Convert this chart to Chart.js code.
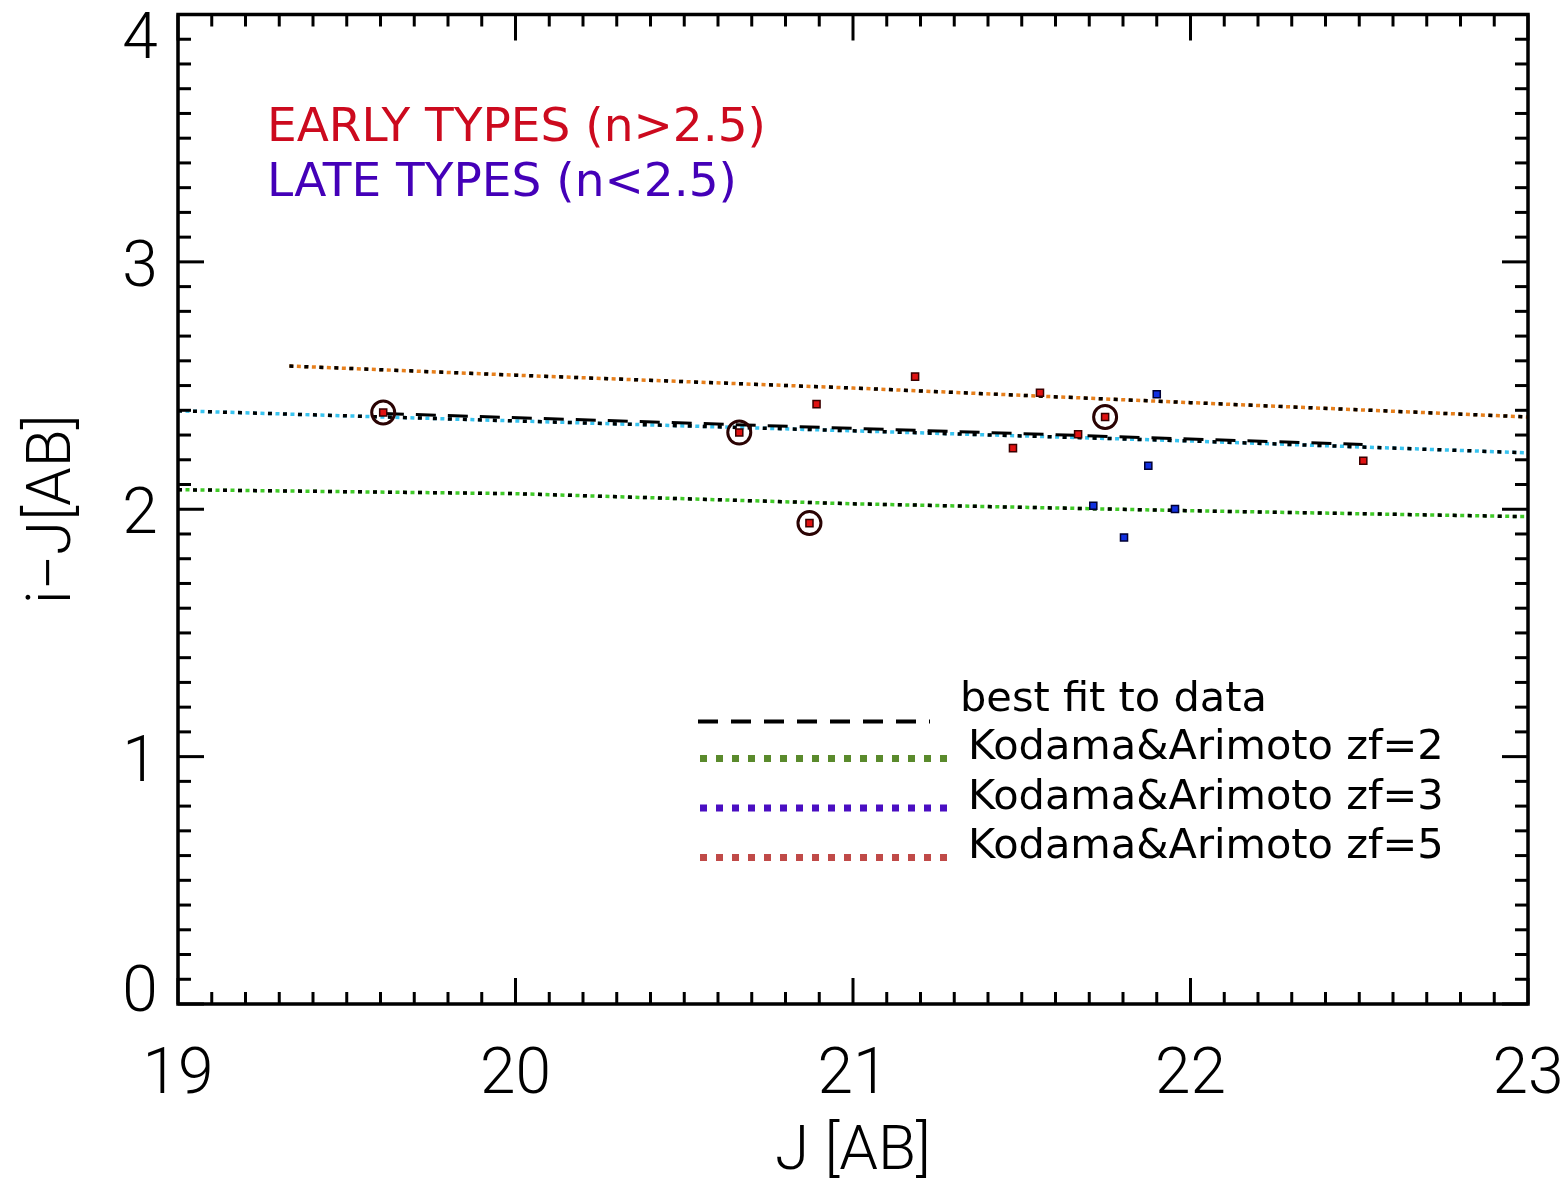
<!DOCTYPE html>
<html>
<head>
<meta charset="utf-8">
<script src="https://cdn.jsdelivr.net/npm/chart.js@4.4.1/dist/chart.umd.min.js"></script>
<style>
html,body{margin:0;padding:0;background:#ffffff;}
#wrap{width:1568px;height:1188px;position:relative;}
canvas{display:block;}
</style>
</head>
<body>
<div id="wrap"><canvas id="c" width="1568" height="1188"></canvas></div>
<script>
// ---- data ----
const xTickLabels = ['19', '20', '21', '22', '23'];
const yTickLabels = ['0', '1', '2', '3', '4'];

const earlyJ     = [19.608, 20.663, 20.871, 20.892, 21.184, 21.474, 21.554, 21.667, 21.747, 22.512];
const earlyColor = [2.391, 2.310, 1.944, 2.425, 2.536, 2.247, 2.471, 2.303, 2.373, 2.196];

const circledJ     = [19.608, 20.663, 20.871, 21.747];
const circledColor = [2.391, 2.310, 1.944, 2.373];

const lateJ     = [21.712, 21.803, 21.875, 21.900, 21.954];
const lateColor = [2.014, 1.886, 2.176, 2.465, 2.001];

const fitJ     = [19.61, 22.51];
const fitColor = [2.387, 2.262];

const zf2J     = [19.0, 20.0, 21.0, 22.0, 23.0];
const zf2Color = [2.079, 2.063, 2.022, 1.994, 1.970];

const zf3J     = [19.0, 20.0, 21.0, 22.0, 23.0];
const zf3Color = [2.398, 2.357, 2.317, 2.276, 2.228];

const zf5J     = [19.33, 20.0, 21.0, 22.0, 23.0];
const zf5Color = [2.579, 2.542, 2.490, 2.431, 2.373];

const legendLabels = ['best fit to data', 'Kodama&Arimoto zf=2', 'Kodama&Arimoto zf=3', 'Kodama&Arimoto zf=5'];
const annotationLabels = ['EARLY TYPES (n>2.5)', 'LATE TYPES (n<2.5)'];
const xTitle = 'J [AB]';
const yTitle = 'i\u2212J[AB]';

// ---- helpers ----
const pts = (xs, ys) => xs.map((x, i) => ({x: x, y: ys[i]}));
const AXIS_FONT = 'Roboto';

const lineDs = (xs, ys, color, dash, width) => ({
  data: pts(xs, ys), showLine: true, pointRadius: 0, borderColor: color,
  borderWidth: width, borderDash: dash, fill: false, tension: 0
});

const idlDecor = {
  id: 'idlDecor',
  afterDraw(chart) {
    const {ctx, chartArea: {left, right, top, bottom}, scales: {x, y}} = chart;
    ctx.save();
    const seg = (x1, y1, x2, y2) => { ctx.beginPath(); ctx.moveTo(x1, y1); ctx.lineTo(x2, y2); ctx.stroke(); };
    ctx.strokeStyle = '#000';
    ctx.lineWidth = 3;
    ctx.lineCap = 'butt';
    const nx = Math.round((x.max - x.min) / 0.1);
    for (let k = 0; k <= nx; k++) {
      const px = x.getPixelForValue(x.min + k * 0.1);
      const len = (k % 10 === 0) ? 26 : 12;
      seg(px, bottom, px, bottom - len);
      seg(px, top, px, top + len);
    }
    const ny = Math.round((y.max - y.min) / 0.1);
    for (let k = 0; k <= ny; k++) {
      const py = y.getPixelForValue(y.min + k * 0.1);
      const len = (k % 10 === 0) ? 26 : 13;
      seg(left, py, left + len, py);
      seg(right, py, right - len, py);
    }
    ctx.lineWidth = 3.5;
    ctx.strokeRect(left, top, right - left, bottom - top);

    // y tick labels (kept inside the frame extent like the original)
    ctx.fillStyle = '#000';
    ctx.font = '300 64px ' + AXIS_FONT;
    ctx.textAlign = 'center';
    ctx.textBaseline = 'middle';
    yTickLabels.forEach(lab => {
      const py = y.getPixelForValue(Number(lab));
      const yy = Math.min(Math.max(py + 8, top + 27), bottom - 9);
      ctx.fillText(lab, left - 38, yy);
    });

    // annotations
    ctx.textAlign = 'left';
    ctx.font = '47px "DejaVu Sans"';
    ctx.fillStyle = '#cc0a1e';
    ctx.fillText(annotationLabels[0], left + 89, top + 114);
    ctx.fillStyle = '#4400b8';
    ctx.fillText(annotationLabels[1], left + 89, top + 169);

    // legend
    const lx0 = left + 520;
    ctx.font = '41.5px "DejaVu Sans"';
    ctx.fillStyle = '#000';
    ctx.strokeStyle = '#000'; ctx.lineWidth = 4; ctx.setLineDash([20, 13]);
    seg(lx0, top + 707, lx0 + 232, top + 707);
    ctx.fillText(legendLabels[0], lx0 + 262, top + 686);
    const legCols = ['#5a8a2c', '#4a0ec2', '#c04a48'];
    for (let i = 0; i < 3; i++) {
      const ly = top + 744 + i * 49.5;
      ctx.strokeStyle = legCols[i]; ctx.lineWidth = 7; ctx.setLineDash([7, 9]);
      seg(lx0 + 2, ly, lx0 + 252, ly);
      ctx.fillText(legendLabels[i + 1], lx0 + 270, ly - 10);
    }
    ctx.restore();
  }
};

const datasets = [
  {data: pts(circledJ, circledColor), pointStyle: 'circle', pointRadius: 11.5, backgroundColor: 'rgba(0,0,0,0)',
   borderColor: '#2a0303', borderWidth: 3, showLine: false},
  {data: pts(earlyJ, earlyColor), pointStyle: 'rect', pointRadius: 5, backgroundColor: '#e01212',
   borderColor: '#3a0000', borderWidth: 1.5, showLine: false},
  {data: pts(lateJ, lateColor), pointStyle: 'rect', pointRadius: 5, backgroundColor: '#1230e0',
   borderColor: '#000033', borderWidth: 1.5, showLine: false},
  lineDs(fitJ, fitColor, '#000000', [20, 12], 3),
  lineDs(zf5J, zf5Color, '#000000', [4, 11], 3.5),
  lineDs(zf5J, zf5Color, '#e8801c', [4, 3.5], 3.5),
  lineDs(zf3J, zf3Color, '#000000', [4, 11], 3.5),
  lineDs(zf3J, zf3Color, '#38c4f0', [4, 3.5], 3.5),
  lineDs(zf2J, zf2Color, '#000000', [4, 11], 3.5),
  lineDs(zf2J, zf2Color, '#40cc28', [4, 3.5], 3.5)
];

new Chart(document.getElementById('c'), {
  type: 'scatter',
  data: {datasets: datasets},
  options: {
    responsive: false,
    animation: false,
    devicePixelRatio: 1,
    layout: {padding: {top: 13, right: 40, left: 0, bottom: 0}},
    plugins: {legend: {display: false}, tooltip: {enabled: false}},
    scales: {
      x: {
        type: 'linear', min: 19, max: 23,
        grid: {display: false, drawTicks: false},
        border: {display: false},
        ticks: {
          stepSize: 1, padding: 35, color: '#000',
          font: {family: AXIS_FONT, size: 64, weight: '300'},
          callback: (v) => xTickLabels[Math.round(v - 19)]
        },
        title: {display: true, text: xTitle, color: '#000',
                font: {family: AXIS_FONT, size: 62, weight: '300'}, padding: {top: 0, bottom: -3}},
        afterFit: (s) => { s.height = 184; s.paddingLeft = 0; s.paddingRight = 0; }
      },
      y: {
        type: 'linear', min: 0, max: 4,
        grid: {display: false, drawTicks: false},
        border: {display: false},
        ticks: {display: false, stepSize: 1},
        title: {display: true, text: yTitle, color: '#000',
                font: {family: AXIS_FONT, size: 62, weight: '300'}, padding: {top: 17, bottom: 0}},
        afterFit: (s) => { s.width = 178; s.paddingTop = 0; s.paddingBottom = 0; }
      }
    }
  },
  plugins: [idlDecor]
});
</script>
</body>
</html>
